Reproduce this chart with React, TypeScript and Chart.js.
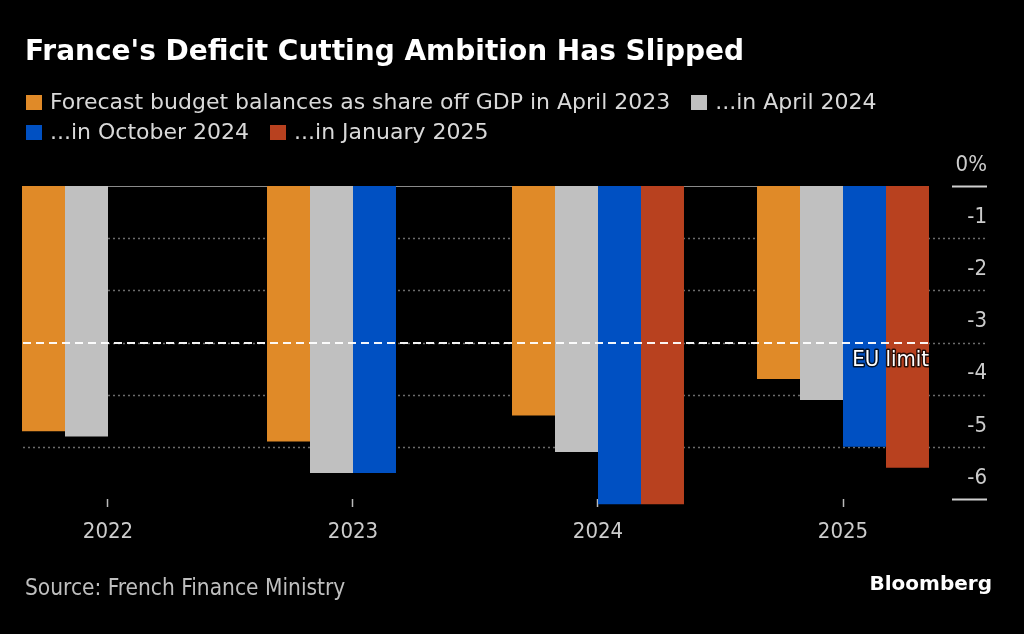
import React, { useEffect, useRef } from "react";
import { Chart, registerables } from "chart.js";

Chart.register(...registerables);

// ---- data ----
const years = [2022, 2023, 2024, 2025];
const seriesLabels = [
  "Forecast budget balances as share off GDP in April 2023",
  "...in April 2024",
  "...in October 2024",
  "...in January 2025",
];
const april2023 = [-4.7, -4.9, -4.4, -3.7];
const april2024 = [-4.8, -5.5, -5.1, -4.1];
const october2024 = [null, -5.5, -6.1, -5.0];
const january2025 = [null, null, -6.1, -5.4];
const seriesColors = ["#E08A28", "#C0C0C0", "#0050C2", "#B8411F"];
const yTicks = [0, -1, -2, -3, -4, -5, -6];
const euLimit = -3;
const euLabel = "EU limit";
const title = "France's Deficit Cutting Ambition Has Slipped";
const source = "Source: French Finance Ministry";

const seriesValues = [april2023, april2024, october2024, january2025];

const FONT = "'DejaVu Sans Condensed', 'DejaVu Sans', sans-serif";
const REG_FONT = "'DejaVu Sans', sans-serif";
const BOLD_FONT = "'DejaVu Sans', sans-serif";

function barsRight(chart: any): number {
  const meta = chart.getDatasetMeta(seriesValues.length - 1);
  const el = meta.data[years.length - 1] as any;
  if (!el) return chart.chartArea.right;
  return el.x + el.width / 2;
}

const bbgPlugin = {
  id: "bbgGrid",
  beforeDatasetsDraw(chart: any) {
    const { ctx, chartArea, scales } = chart;
    const y = scales.y;
    const right = barsRight(chart);
    ctx.save();
    y.ticks.forEach((t: any) => {
      const py = Math.round(y.getPixelForValue(t.value)) + 0.5;
      if (t.value === 0) {
        ctx.setLineDash([]);
        ctx.strokeStyle = "#8a8a8a";
        ctx.lineWidth = 1;
        ctx.beginPath();
        ctx.moveTo(chartArea.left, py);
        ctx.lineTo(right, py);
        ctx.stroke();
      } else if (t.value !== y.min) {
        ctx.setLineDash([2, 3]);
        ctx.strokeStyle = "#6c6c6c";
        ctx.lineWidth = 1.5;
        ctx.beginPath();
        ctx.moveTo(chartArea.left, py);
        ctx.lineTo(chartArea.right, py);
        ctx.stroke();
      }
      if (t.value === 0 || t.value === y.min) {
        ctx.setLineDash([]);
        ctx.strokeStyle = "#cfcfcf";
        ctx.lineWidth = 2;
        ctx.beginPath();
        ctx.moveTo(chartArea.right - 35, py);
        ctx.lineTo(chartArea.right, py);
        ctx.stroke();
      }
    });
    ctx.restore();
  },
  afterDatasetsDraw(chart: any) {
    const { ctx, chartArea, scales } = chart;
    const y = scales.y;
    const right = barsRight(chart);
    const py = Math.round(y.getPixelForValue(euLimit));
    ctx.save();
    ctx.setLineDash([8, 5]);
    ctx.strokeStyle = "rgba(255,255,255,0.95)";
    ctx.lineWidth = 2;
    ctx.beginPath();
    ctx.moveTo(chartArea.left, py);
    ctx.lineTo(right, py);
    ctx.stroke();
    ctx.setLineDash([]);
    ctx.font = `22px ${FONT}`;
    ctx.textAlign = "right";
    ctx.textBaseline = "middle";
    ctx.lineJoin = "round";
    ctx.strokeStyle = "rgba(0,0,0,0.8)";
    ctx.lineWidth = 3;
    ctx.strokeText(euLabel, right, py + 17);
    ctx.fillStyle = "#ffffff";
    ctx.fillText(euLabel, right, py + 17);
    ctx.restore();
  },
};

export default function App() {
  const canvasRef = useRef<HTMLCanvasElement | null>(null);

  useEffect(() => {
    document.body.style.margin = "0";
    document.body.style.background = "#000";
    const canvas = canvasRef.current;
    if (!canvas) return;
    const chart = new Chart(canvas, {
      type: "bar",
      data: {
        datasets: seriesValues.map((vals, si) => ({
          label: seriesLabels[si],
          data: years.map((yr, i) => ({ x: yr, y: vals[i] })),
          backgroundColor: seriesColors[si],
          borderWidth: 0,
          categoryPercentage: 0.702,
          barPercentage: 1,
          clip: false,
        })),
      } as any,
      options: {
        responsive: false,
        animation: false,
        events: [],
        layout: { padding: { left: 23, right: 37, top: 186, bottom: 75 } },
        plugins: {
          legend: { display: false },
          tooltip: { enabled: false },
          title: { display: false },
        },
        scales: {
          x: {
            type: "linear",
            min: years[0] - 85 / 245,
            max: years[years.length - 1] + 144 / 245,
            offset: false,
            afterBuildTicks: (s: any) => {
              s.ticks = years.map((v) => ({ value: v }));
            },
            afterFit: (s: any) => {
              s.height = 60;
            },
            ticks: {
              autoSkip: false,
              maxRotation: 0,
              color: "#cccccc",
              padding: 12,
              font: { family: FONT, size: 22 },
              callback: (v: any) => String(v),
            },
            grid: {
              display: true,
              offset: false,
              drawOnChartArea: false,
              drawTicks: true,
              tickLength: 8,
              tickColor: "#bbbbbb",
              tickWidth: 1.5,
            },
            border: { display: false },
          },
          y: {
            type: "linear",
            position: "right",
            min: yTicks[yTicks.length - 1],
            max: yTicks[0],
            afterBuildTicks: (s: any) => {
              s.ticks = yTicks.map((v) => ({ value: v }));
            },
            ticks: {
              mirror: true,
              padding: 0,
              labelOffset: -21,
              color: "#cccccc",
              font: { family: FONT, size: 22 },
              callback: (v: any) => (v === 0 ? "0%" : String(v)),
            },
            grid: { display: false, drawTicks: false },
            border: { display: false },
          },
        },
      } as any,
      plugins: [bbgPlugin],
    });
    return () => chart.destroy();
  }, []);

  const textRow: React.CSSProperties = {
    position: "absolute",
    left: 26,
    fontFamily: REG_FONT,
    fontSize: 22,
    lineHeight: "22px",
    color: "#d9d9d9",
    whiteSpace: "nowrap",
    display: "flex",
    alignItems: "center",
  };
  const marker = (c: string): React.CSSProperties => ({
    display: "inline-block",
    width: 16,
    height: 15,
    background: c,
    marginRight: 8,
  });
  const item = (i: number, last: boolean) => (
    <span key={i} style={{ display: "inline-flex", alignItems: "center", marginRight: last ? 0 : 21 }}>
      <span style={marker(seriesColors[i])} />
      <span>{seriesLabels[i]}</span>
    </span>
  );

  return (
    <div style={{ position: "relative", width: 1024, height: 634, background: "#000", overflow: "hidden" }}>
      <canvas ref={canvasRef} width={1024} height={634} style={{ position: "absolute", left: 0, top: 0 }} />
      <div
        style={{
          position: "absolute",
          left: 25,
          top: 37,
          fontFamily: BOLD_FONT,
          fontWeight: "bold",
          fontSize: 28,
          lineHeight: "28px",
          color: "#ffffff",
          whiteSpace: "nowrap",
        }}
      >
        {title}
      </div>
      <div style={{ ...textRow, top: 91 }}>
        {item(0, false)}
        {item(1, true)}
      </div>
      <div style={{ ...textRow, top: 121 }}>
        {item(2, false)}
        {item(3, true)}
      </div>
      <div
        style={{
          position: "absolute",
          left: 25,
          top: 576,
          fontFamily: FONT,
          fontSize: 22.5,
          lineHeight: "22px",
          color: "#bfbfbf",
          whiteSpace: "nowrap",
        }}
      >
        {source}
      </div>
      <div
        style={{
          position: "absolute",
          right: 32,
          top: 573,
          fontFamily: BOLD_FONT,
          fontWeight: "bold",
          fontSize: 20,
          lineHeight: "20px",
          color: "#ffffff",
          whiteSpace: "nowrap",
        }}
      >
        Bloomberg
      </div>
    </div>
  );
}
